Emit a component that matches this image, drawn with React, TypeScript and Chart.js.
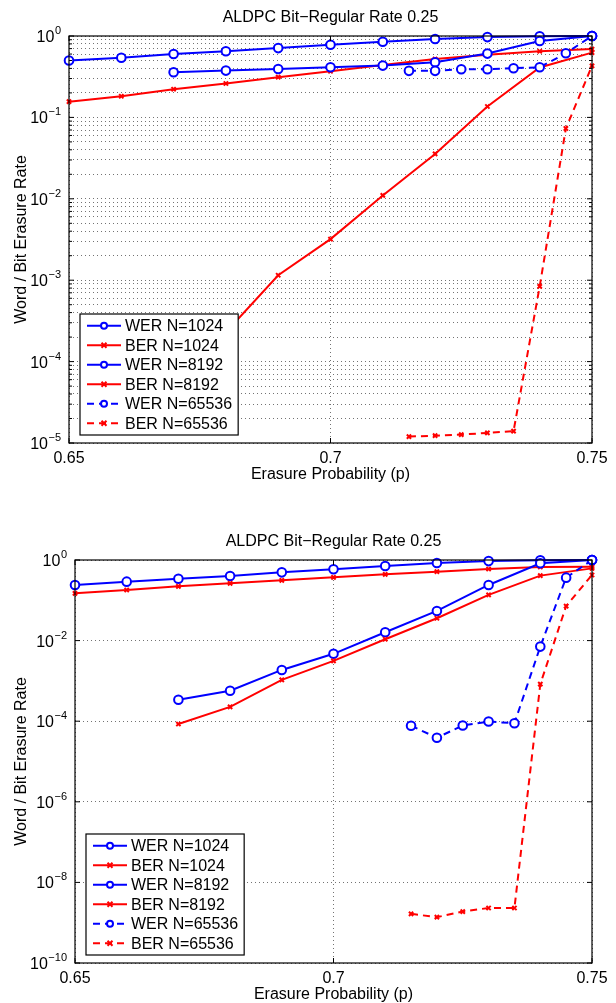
import { useEffect, useRef } from "react";
import { Chart, registerables } from "chart.js";

Chart.register(...registerables);

const TITLE = "ALDPC Bit\u2212Regular Rate 0.25";
const X_LABEL = "Erasure Probability (p)";
const Y_LABEL = "Word / Bit Erasure Rate";
const SERIES_LABELS = ["WER N=1024", "BER N=1024", "WER N=8192", "BER N=8192", "WER N=65536", "BER N=65536"];
const X_TICKS = [0.65, 0.7, 0.75];
const X_TICK_LABELS = ["0.65", "0.7", "0.75"];

// erasure probabilities
const P_1024 = [0.65, 0.66, 0.67, 0.68, 0.69, 0.7, 0.71, 0.72, 0.73, 0.74, 0.75];
const P_8192 = [0.67, 0.68, 0.69, 0.7, 0.71, 0.72, 0.73, 0.74, 0.75];
const P_65536 = [0.715, 0.72, 0.725, 0.73, 0.735, 0.74, 0.745, 0.75];

// upper figure
const TOP_WER_1024 = [0.5, 0.54, 0.6, 0.65, 0.71, 0.78, 0.85, 0.92, 0.97, 0.99, 1.0];
const TOP_BER_1024 = [0.156, 0.182, 0.222, 0.261, 0.312, 0.369, 0.44, 0.52, 0.59, 0.65, 0.69];
const TOP_WER_8192 = [0.359, 0.376, 0.394, 0.413, 0.433, 0.476, 0.608, 0.868, 1.0];
const TOP_BER_8192 = [9e-5, 2.3e-4, 1.15e-3, 3.2e-3, 0.011, 0.0356, 0.136, 0.41, 0.625];
const TOP_WER_65536 = [0.373, 0.373, 0.391, 0.391, 0.402, 0.413, 0.613, 1.0];
const TOP_BER_65536 = [1.2e-5, 1.23e-5, 1.27e-5, 1.33e-5, 1.4e-5, 8.4e-4, 0.073, 0.43];
const TOP_Y_EXPONENTS = [0, -1, -2, -3, -4, -5];

// lower figure
const BOT_WER_1024 = [0.24, 0.29, 0.344, 0.4, 0.494, 0.587, 0.71, 0.84, 0.94, 0.98, 1.0];
const BOT_BER_1024 = [0.149, 0.18, 0.222, 0.264, 0.313, 0.372, 0.441, 0.514, 0.598, 0.67, 0.68];
const BOT_WER_8192 = [3.4e-4, 5.7e-4, 1.87e-3, 4.7e-3, 0.0161, 0.0544, 0.24, 0.83, 1.0];
const BOT_BER_8192 = [8.5e-5, 2.26e-4, 1.06e-3, 3.13e-3, 0.0108, 0.0358, 0.136, 0.41, 0.62];
const BOT_WER_65536 = [7.7e-5, 3.9e-5, 7.8e-5, 9.8e-5, 8.9e-5, 7.1e-3, 0.365, 1.0];
const BOT_BER_65536 = [1.66e-9, 1.37e-9, 1.89e-9, 2.32e-9, 2.32e-9, 8.3e-4, 0.072, 0.425];
const BOT_Y_EXPONENTS = [0, -2, -4, -6, -8, -10];

const FONT = '"Liberation Sans", Arial, Helvetica, sans-serif';
const BLUE = "#0000ff";
const RED = "#ff0000";

function pts(xs: number[], ys: number[]) {
  return xs.map((x, i) => ({ x, y: ys[i] }));
}

function makeDatasets(series: number[][]) {
  const xs = [P_1024, P_1024, P_8192, P_8192, P_65536, P_65536];
  return series.map((ys, i) => {
    const wer = i % 2 === 0;
    const dashed = i >= 4;
    return {
      label: SERIES_LABELS[i],
      data: pts(xs[i], ys),
      borderColor: wer ? BLUE : RED,
      backgroundColor: wer ? BLUE : RED,
      borderWidth: 2,
      borderDash: dashed ? [7, 5] : [],
      pointStyle: wer ? "circle" : "crossRot",
      pointRadius: wer ? 4.3 : 3,
      pointBorderWidth: 2,
      pointBackgroundColor: wer ? "#ffffff" : RED,
      pointBorderColor: wer ? BLUE : RED,
      pointHoverRadius: wer ? 4.3 : 3,
      tension: 0,
      fill: false,
      clip: false as any,
      order: 10 - i,
    };
  });
}

const decorPlugin = {
  id: "decor",
  afterDraw(chart: any, _args: any, opts: any) {
    const ctx: CanvasRenderingContext2D = chart.ctx;
    const a = chart.chartArea;
    const xs = chart.scales.x;
    const ys = chart.scales.y;
    const exps: number[] = opts.exps;
    ctx.save();
    // box
    ctx.setLineDash([]);
    ctx.strokeStyle = "#000";
    ctx.lineWidth = 1.2;
    ctx.strokeRect(a.left, a.top, a.right - a.left, a.bottom - a.top);
    // tick marks
    ctx.lineWidth = 1;
    ctx.beginPath();
    exps.forEach((e) => {
      const y = ys.getPixelForValue(Math.pow(10, e));
      ctx.moveTo(a.left, y);
      ctx.lineTo(a.left + 5, y);
      ctx.moveTo(a.right, y);
      ctx.lineTo(a.right - 5, y);
    });
    if (opts.minor) {
      for (let e = Math.min(...exps); e < 0; e++) {
        for (let k = 2; k <= 9; k++) {
          const y = ys.getPixelForValue(k * Math.pow(10, e));
          ctx.moveTo(a.left, y);
          ctx.lineTo(a.left + 3, y);
          ctx.moveTo(a.right, y);
          ctx.lineTo(a.right - 3, y);
        }
      }
    }
    X_TICKS.forEach((t) => {
      const x = xs.getPixelForValue(t);
      ctx.moveTo(x, a.bottom);
      ctx.lineTo(x, a.bottom - 5);
      ctx.moveTo(x, a.top);
      ctx.lineTo(x, a.top + 5);
    });
    ctx.stroke();

    // title
    ctx.fillStyle = "#000";
    ctx.textAlign = "center";
    ctx.textBaseline = "middle";
    ctx.font = `16px ${FONT}`;
    ctx.fillText(TITLE, (a.left + a.right) / 2, a.top - 18);

    // x tick labels
    ctx.textBaseline = "top";
    X_TICKS.forEach((t, i) => {
      ctx.fillText(X_TICK_LABELS[i], xs.getPixelForValue(t), a.bottom + 8);
    });
    // x title
    ctx.fillText(X_LABEL, (a.left + a.right) / 2, a.bottom + 24);

    // y tick labels with superscript exponent
    exps.forEach((e) => {
      const y = ys.getPixelForValue(Math.pow(10, e));
      const expText = e === 0 ? "0" : "\u2212" + String(-e);
      ctx.font = `11px ${FONT}`;
      const ew = ctx.measureText(expText).width;
      const xEnd = a.left - 8;
      ctx.textAlign = "left";
      ctx.textBaseline = "alphabetic";
      ctx.fillText(expText, xEnd - ew, y - 2);
      ctx.font = `16px ${FONT}`;
      ctx.textAlign = "right";
      ctx.fillText("10", xEnd - ew - 0.5, y + 6);
    });

    // y title
    ctx.save();
    ctx.translate(22, (a.top + a.bottom) / 2);
    ctx.rotate(-Math.PI / 2);
    ctx.textAlign = "center";
    ctx.textBaseline = "middle";
    ctx.font = `16px ${FONT}`;
    ctx.fillText(Y_LABEL, 0, 0);
    ctx.restore();

    // legend
    const dsets = chart.data.datasets;
    ctx.font = `16px ${FONT}`;
    const maxW = Math.max(...dsets.map((d: any) => ctx.measureText(d.label).width));
    const rowH = 19.5;
    const boxW = 46 + maxW + 5;
    const boxH = rowH * dsets.length + 4;
    const bx = a.left + 11;
    const by = a.bottom - 8 - boxH;
    ctx.fillStyle = "#fff";
    ctx.fillRect(bx, by, boxW, boxH);
    ctx.strokeStyle = "#000";
    ctx.lineWidth = 1.2;
    ctx.setLineDash([]);
    ctx.strokeRect(bx, by, boxW, boxH);
    dsets.forEach((d: any, i: number) => {
      const cy = by + 2 + rowH * (i + 0.5);
      ctx.strokeStyle = d.borderColor;
      ctx.lineWidth = 2;
      ctx.setLineDash(d.borderDash || []);
      ctx.beginPath();
      ctx.moveTo(bx + 7, cy);
      ctx.lineTo(bx + 41, cy);
      ctx.stroke();
      ctx.setLineDash([]);
      const mx = bx + 24;
      if (d.pointStyle === "circle") {
        ctx.fillStyle = "#fff";
        ctx.beginPath();
        ctx.arc(mx, cy, 3, 0, Math.PI * 2);
        ctx.fill();
        ctx.stroke();
      } else {
        ctx.beginPath();
        ctx.moveTo(mx - 2.5, cy - 2.5);
        ctx.lineTo(mx + 2.5, cy + 2.5);
        ctx.moveTo(mx + 2.5, cy - 2.5);
        ctx.lineTo(mx - 2.5, cy + 2.5);
        ctx.stroke();
      }
      ctx.fillStyle = "#000";
      ctx.textAlign = "left";
      ctx.textBaseline = "middle";
      ctx.fillText(d.label, bx + 45, cy + 1);
    });
    ctx.restore();
  },
};

function makeConfig(series: number[][], exps: number[], minor: boolean, padding: any) {
  const minE = Math.min(...exps);
  return {
    type: "line" as const,
    data: { datasets: makeDatasets(series) },
    plugins: [decorPlugin],
    options: {
      responsive: false,
      animation: false as const,
      events: [],
      layout: { padding },
      plugins: {
        legend: { display: false },
        tooltip: { enabled: false },
        title: { display: false },
        decor: { exps, minor },
      },
      scales: {
        x: {
          type: "linear" as const,
          min: 0.65,
          max: 0.75,
          afterBuildTicks: (s: any) => {
            s.ticks = X_TICKS.map((v) => ({ value: v }));
          },
          ticks: { display: false },
          grid: { drawTicks: false, color: "rgba(0,0,0,0.55)", lineWidth: 1 },
          border: { display: false, dash: [1, 3] },
        },
        y: {
          type: "logarithmic" as const,
          min: Math.pow(10, minE),
          max: 1,
          afterBuildTicks: (s: any) => {
            const t: { value: number }[] = [];
            exps.forEach((e) => t.push({ value: Math.pow(10, e) }));
            if (minor) {
              for (let e = minE; e < 0; e++) {
                for (let k = 2; k <= 9; k++) t.push({ value: k * Math.pow(10, e) });
              }
            }
            s.ticks = t;
          },
          ticks: { display: false },
          grid: { drawTicks: false, color: "rgba(0,0,0,0.55)", lineWidth: 1 },
          border: { display: false, dash: [1, 3] },
        },
      },
    },
  };
}

function Plot(props: { series: number[][]; exps: number[]; minor: boolean; padding: any; width: number; height: number }) {
  const ref = useRef<HTMLCanvasElement>(null);
  useEffect(() => {
    if (!ref.current) return;
    const chart = new Chart(ref.current, makeConfig(props.series, props.exps, props.minor, props.padding) as any);
    return () => chart.destroy();
  }, []);
  return (
    <canvas
      ref={ref}
      width={props.width}
      height={props.height}
      style={{ display: "block", width: props.width, height: props.height }}
    />
  );
}

export default function App() {
  return (
    <div style={{ position: "absolute", left: 0, top: 0, width: 616, height: 1003, background: "#fff" }}>
      <Plot
        series={[TOP_WER_1024, TOP_BER_1024, TOP_WER_8192, TOP_BER_8192, TOP_WER_65536, TOP_BER_65536]}
        exps={TOP_Y_EXPONENTS}
        minor={true}
        padding={{ left: 69, right: 24, top: 36, bottom: 57 }}
        width={616}
        height={500}
      />
      <Plot
        series={[BOT_WER_1024, BOT_BER_1024, BOT_WER_8192, BOT_BER_8192, BOT_WER_65536, BOT_BER_65536]}
        exps={BOT_Y_EXPONENTS}
        minor={false}
        padding={{ left: 75, right: 24, top: 60, bottom: 40 }}
        width={616}
        height={503}
      />
    </div>
  );
}
